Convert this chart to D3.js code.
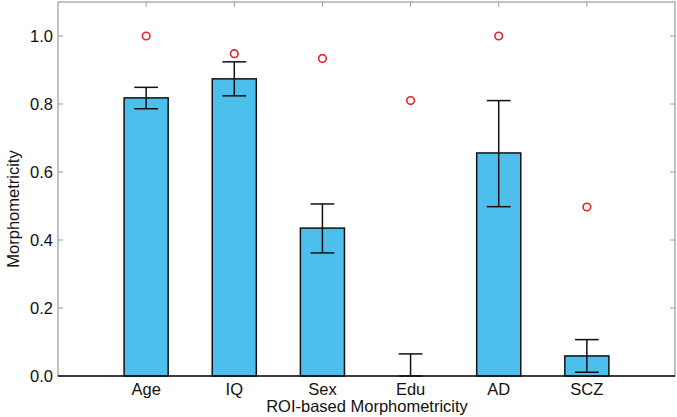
<!DOCTYPE html>
<html><head><meta charset="utf-8">
<script src="https://cdn.jsdelivr.net/npm/d3@7"></script>
<style>body{margin:0;background:#fff}svg{display:block}text{font-family:"Liberation Sans",Arial,Helvetica,sans-serif}</style>
</head><body>
<svg id="c" width="677" height="417"></svg>
<script>
const categories = ["Age","IQ","Sex","Edu","AD","SCZ"];
const barValues = [0.818, 0.874, 0.435, 0.0, 0.656, 0.059];
const errLow = [0.786, 0.824, 0.362, 0.0, 0.498, 0.011];
const errHigh = [0.849, 0.924, 0.506, 0.065, 0.810, 0.107];
const circleValues = [1.0, 0.948, 0.934, 0.81, 1.0, 0.497];
const yTicks = [0, 0.2, 0.4, 0.6, 0.8, 1.0];

const svg = d3.select("#c");
const L = 58, R = 675, T = 2, B = 376;
const x = d3.scaleLinear().domain([0, 7]).range([L, R]);
const y = d3.scaleLinear().domain([0, 1.1]).range([B, T]);
const bw = x(0.5) - x(0), cw = x(0.27) - x(0);
const frame = "#9a9a9a";
const fs = 16.5;

// frame
svg.append("rect").attr("x", L).attr("y", T).attr("width", R - L).attr("height", B - T)
  .attr("fill", "none").attr("stroke", frame).attr("stroke-width", 1.2);

// y ticks (inward both sides)
const yt = svg.append("g");
yTicks.forEach(v => {
  yt.append("line").attr("x1", L).attr("x2", L + 5).attr("y1", y(v)).attr("y2", y(v)).attr("stroke", frame);
  yt.append("line").attr("x1", R - 5).attr("x2", R).attr("y1", y(v)).attr("y2", y(v)).attr("stroke", frame);
  yt.append("text").attr("x", L - 5).attr("y", y(v)).attr("dy", "0.36em").attr("text-anchor", "end")
    .attr("font-size", fs).attr("fill", "#111").text(d3.format(".1f")(v));
});
// x ticks at top (inward)
categories.forEach((c, i) => {
  svg.append("line").attr("x1", x(i + 1)).attr("x2", x(i + 1)).attr("y1", T).attr("y2", T + 5).attr("stroke", frame);
  svg.append("text").attr("x", x(i + 1)).attr("y", 395).attr("text-anchor", "middle")
    .attr("font-size", fs).attr("fill", "#111").text(c);
});

// bars
svg.append("g").selectAll("rect").data(barValues).join("rect")
  .attr("x", (d, i) => x(i + 1) - bw / 2).attr("width", bw)
  .attr("y", d => y(d)).attr("height", d => y(0) - y(d))
  .attr("fill", "#4dbfec").attr("stroke", "#111").attr("stroke-width", 1.5);

// error bars
const eg = svg.append("g").attr("stroke", "#111").attr("stroke-width", 1.5);
categories.forEach((c, i) => {
  const cx = x(i + 1);
  eg.append("line").attr("x1", cx).attr("x2", cx).attr("y1", y(errLow[i])).attr("y2", y(errHigh[i]));
  eg.append("line").attr("x1", cx - cw / 2).attr("x2", cx + cw / 2).attr("y1", y(errHigh[i])).attr("y2", y(errHigh[i]));
  eg.append("line").attr("x1", cx - cw / 2).attr("x2", cx + cw / 2).attr("y1", y(errLow[i])).attr("y2", y(errLow[i]));
});

// baseline
svg.append("line").attr("x1", L).attr("x2", R).attr("y1", y(0)).attr("y2", y(0)).attr("stroke", "#111").attr("stroke-width", 1.5);

// circles
svg.append("g").selectAll("circle").data(circleValues).join("circle")
  .attr("cx", (d, i) => x(i + 1)).attr("cy", d => y(d)).attr("r", 3.8)
  .attr("fill", "none").attr("stroke", "#e8202a").attr("stroke-width", 1.6);

// axis labels
svg.append("text").attr("x", 367).attr("y", 412).attr("text-anchor", "middle")
  .attr("font-size", fs).attr("fill", "#111").text("ROI-based Morphometricity");
svg.append("text").attr("transform", `translate(19,209) rotate(-90)`).attr("text-anchor", "middle")
  .attr("font-size", fs).attr("fill", "#111").text("Morphometricity");
</script>
</body></html>
